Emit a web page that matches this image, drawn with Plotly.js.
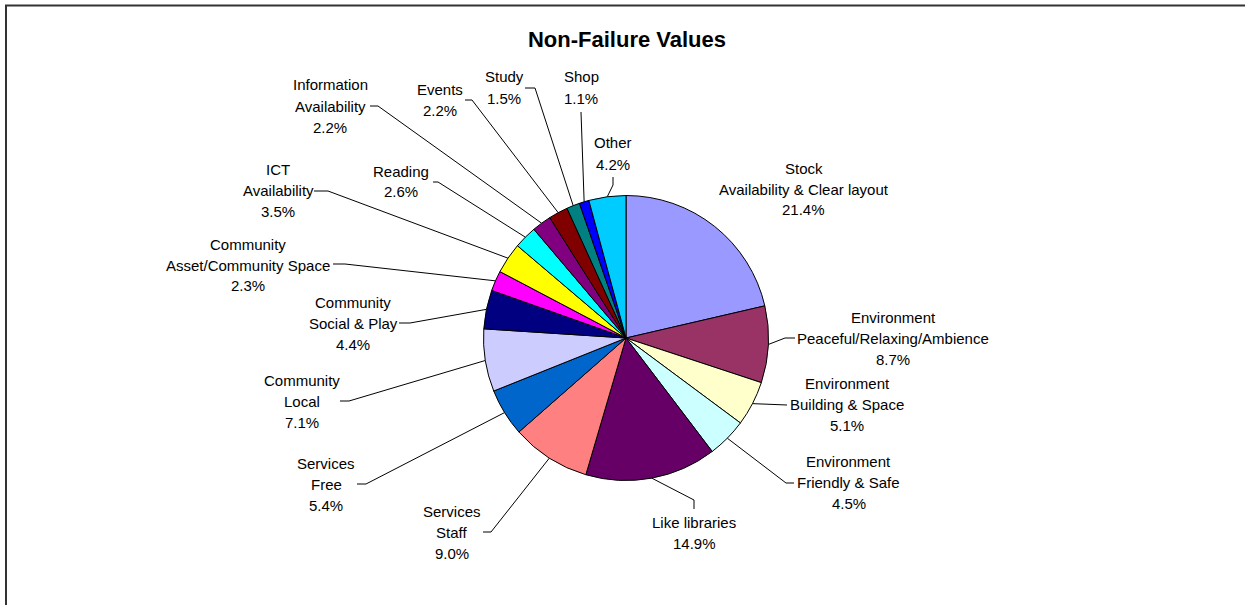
<!DOCTYPE html>
<html>
<head>
<meta charset="utf-8">
<script src="https://cdn.plot.ly/plotly-3.0.1.min.js"></script>
<style>html,body{margin:0;padding:0;background:#fff;}#chart{width:1245px;height:605px;}</style>
</head>
<body>
<div id="chart"></div>
<script>
// ---- data ----
const categories = [
  "Stock<br>Availability & Clear layout",
  "Environment<br>Peaceful/Relaxing/Ambience",
  "Environment<br>Building & Space",
  "Environment<br>Friendly & Safe",
  "Like libraries",
  "Services<br>Staff",
  "Services<br>Free",
  "Community<br>Local",
  "Community<br>Social & Play",
  "Community<br>Asset/Community Space",
  "ICT<br>Availability",
  "Reading",
  "Information<br>Availability",
  "Events",
  "Study",
  "Shop",
  "Other"
];
const percentValues = [21.4, 8.7, 5.1, 4.5, 14.9, 9.0, 5.4, 7.1, 4.4, 2.3, 3.5, 2.6, 2.2, 2.2, 1.5, 1.1, 4.2];
const sliceColors = ["#9999FF","#993366","#FFFFCC","#CCFFFF","#660066","#FF8080","#0066CC","#CCCCFF",
  "#000080","#FF00FF","#FFFF00","#00FFFF","#800080","#800000","#008080","#0000FF","#00CCFF"];

// ---- layout (pixel positions of labels and leader elbows) ----
const W = 1245, H = 605;
const CX = 626, CY = 338, R = 142.5;
// [label centre x, label centre y, elbow x, elbow y, end x, end y] (null = no leader)
const labelPos = [
  [804, 189, null],
  [893, 338, [785, 338, 795, 338]],
  [847, 404, [787, 405, 787, 405]],
  [849, 482, [786, 483, 794, 483]],
  [694, 532.5, [694, 500, 694, 509]],
  [452, 532, [491, 532, 483, 532]],
  [326, 484, [366, 484, 357, 484]],
  [302, 401, [349, 401, 340, 401]],
  [353, 323, [410, 323, 399, 323]],
  [248, 265, [345, 264, 333, 264]],
  [278, 190, [328, 191, 314, 191]],
  [401, 181.5, [438, 182, 433, 182]],
  [330, 106, [378, 106, 370, 106]],
  [440, 99.5, [472, 100, 465, 100]],
  [504, 87.5, [535, 88, 525, 88]],
  [581, 87.5, [581, 112, 581, 112]],
  [613, 153.5, [613, 185, 613, 177]]
];
const LINE_H = 21;

const px = x => x / W;
const py = y => 1 - y / H;

const total = percentValues.reduce((a, b) => a + b, 0);
const annotations = [];
const shapes = [];

// outer frame
shapes.push({type: 'rect', xref: 'paper', yref: 'paper', x0: px(6), x1: px(1252), y0: py(5.5), y1: py(615),
  line: {color: '#333333', width: 2}, fillcolor: 'rgba(0,0,0,0)'});

let cum = 0;
categories.forEach((cat, i) => {
  const v = percentValues[i];
  const mid = (cum + v / 2) / total * 2 * Math.PI;
  cum += v;
  const ex = CX + R * Math.sin(mid);
  const ey = CY - R * Math.cos(mid);
  const lines = cat.split('<br>').concat([v.toFixed(1) + '%']);
  const [lx, ly, lead] = labelPos[i];
  lines.forEach((t, k) => {
    annotations.push({
      xref: 'paper', yref: 'paper', x: px(lx), y: py(ly + (k - (lines.length - 1) / 2) * LINE_H),
      text: t, showarrow: false, xanchor: 'center', yanchor: 'middle',
      font: {family: 'Liberation Sans, Arial, sans-serif', size: 15, color: '#000'}
    });
  });
  if (lead) {
    const [bx, by, tx, ty] = lead;
    shapes.push({type: 'path', xref: 'paper', yref: 'paper',
      path: `M ${px(ex)} ${py(ey)} L ${px(bx)} ${py(by)} L ${px(tx)} ${py(ty)}`,
      line: {color: '#000', width: 1}});
  }
});

const trace = {
  type: 'pie',
  labels: categories,
  values: percentValues,
  sort: false,
  direction: 'clockwise',
  rotation: 0,
  textinfo: 'none',
  hoverinfo: 'label+percent',
  marker: {colors: sliceColors, line: {color: '#000', width: 1}},
  domain: {x: [px(CX - R), px(CX + R)], y: [py(CY + R), py(CY - R)]},
  showlegend: false
};

const layout = {
  width: W, height: H,
  margin: {l: 0, r: 0, t: 0, b: 0},
  paper_bgcolor: '#fff',
  title: {text: '<b>Non-Failure Values</b>', x: px(627), xanchor: 'center', y: py(39), yanchor: 'middle',
    font: {family: 'Liberation Sans, Arial, sans-serif', size: 22, color: '#000'}},
  annotations: annotations,
  shapes: shapes,
  showlegend: false
};

Plotly.newPlot('chart', [trace], layout, {displayModeBar: false, staticPlot: true});
</script>
</body>
</html>
